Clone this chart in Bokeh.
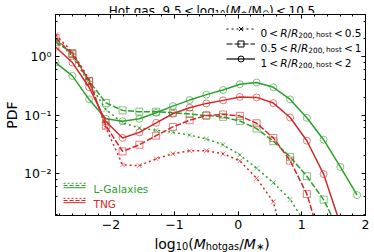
from bokeh.plotting import figure
from bokeh.layouts import column
from bokeh.models import (Range1d, LogAxis, LinearAxis, SingleIntervalTicker, LogTicker,
                          CustomJSTickFormatter, Label, Legend, LegendItem, Arrow)
from bokeh.embed import file_html
from bokeh.resources import INLINE

# ---------------- data ----------------
log_ratio = [-2.868, -2.605, -2.342, -2.079, -1.816, -1.553, -1.289, -1.026, -0.763,
             -0.500, -0.237, 0.026, 0.289, 0.553, 0.816, 1.079, 1.342, 1.605, 1.868]

lgal_inner = [2.0, 1.02, 0.35, 0.124, 0.0734, 0.0601, 0.0547, 0.0505, 0.0452, 0.0389,
              0.031, 0.0208, 0.0123, 0.00694, 0.00359, 0.00127]
lgal_mid = [1.78, 1.15, 0.383, 0.161, 0.120, 0.114, 0.114, 0.109, 0.104, 0.098, 0.093,
            0.0788, 0.0585, 0.0356, 0.0192, 0.00895, 0.00356, 0.00094]
lgal_outer = [0.79, 0.467, 0.185, 0.086, 0.078, 0.086, 0.109, 0.142, 0.180, 0.223, 0.268,
              0.336, 0.359, 0.298, 0.185, 0.0895, 0.0378, 0.0129, 0.00426]
tng_inner = [2.35, 1.2, 0.409, 0.0609, 0.014, 0.0136, 0.0178, 0.0217, 0.0244, 0.0244,
             0.0217, 0.0164, 0.00826, 0.00327, 0.00025]
tng_mid = [2.08, 1.10, 0.378, 0.0659, 0.0238, 0.031, 0.0443, 0.0626, 0.0813, 0.098, 0.102,
           0.0968, 0.0722, 0.0405, 0.0166, 0.00443, 0.0005]
tng_outer = [1.46, 0.79, 0.298, 0.0773, 0.0405, 0.0505, 0.0734, 0.105, 0.133, 0.158, 0.178,
             0.204, 0.20, 0.16, 0.0906, 0.0363, 0.00973, 0.00135]

GREEN = "#2ca02c"
RED = "#d62728"
FONT = "DejaVu Sans"

W = 374
TOP_H, BOT_H = 13, 16
H = 252 - TOP_H - BOT_H
BL, BR, BT, BB = 52, 9, 1, 21
FW, FH = W - BL - BR, H - BT - BB

p = figure(width=W, height=H, x_range=Range1d(-2.87, 2.0),
           y_range=Range1d(10 ** -2.72, 10 ** 0.72), y_axis_type="log",
           output_backend="svg", toolbar_location=None,
           min_border_left=BL, min_border_right=BR, min_border_top=BT, min_border_bottom=BB)
p.xgrid.visible = False
p.ygrid.visible = False
p.outline_line_color = "black"
p.outline_line_width = 1
p.background_fill_color = "white"
p.border_fill_color = "white"

xt = SingleIntervalTicker(interval=1, num_minor_ticks=5)
yt = LogTicker()


def style_axis(ax, labels=True):
    ax.axis_line_color = "black"
    ax.major_tick_in = 4
    ax.major_tick_out = 0
    ax.minor_tick_in = 2
    ax.minor_tick_out = 0
    ax.major_tick_line_color = "black"
    ax.minor_tick_line_color = "black"
    if labels:
        ax.major_label_text_font = FONT
        ax.major_label_text_font_size = "12.5px"
        ax.major_label_text_color = "black"
    else:
        ax.major_label_text_font_size = "1px"
        ax.major_label_text_alpha = 0
        ax.major_label_standoff = 0


p.xaxis.ticker = xt
p.xaxis.formatter = CustomJSTickFormatter(
    code="return tick < 0 ? '\u2212' + Math.abs(tick) : tick.toString();")
p.yaxis.ticker = yt
p.yaxis.formatter = CustomJSTickFormatter(code="""
const e = Math.round(Math.log10(tick));
const sup = {"-": "\u207b", "0": "\u2070", "1": "\u00b9", "2": "\u00b2", "3": "\u00b3"};
return "10" + String(e).split("").map(c => sup[c]).join("");
""")
style_axis(p.xaxis[0])
style_axis(p.yaxis[0])
p.xaxis.major_label_standoff = 4
p.yaxis.major_label_standoff = 4
p.yaxis.axis_label = "PDF"
p.yaxis.axis_label_text_font = FONT
p.yaxis.axis_label_text_font_size = "14px"
p.yaxis.axis_label_text_font_style = "normal"
p.yaxis.axis_label_text_color = "black"
p.yaxis.axis_label_standoff = 1

top_ax = LinearAxis(ticker=xt)
style_axis(top_ax, labels=False)
p.add_layout(top_ax, "above")
right_ax = LogAxis(ticker=yt)
style_axis(right_ax, labels=False)
p.add_layout(right_ax, "right")

# ---------------- series ----------------
DOT, DASH = "2 3", "6 2"
series = [
    (lgal_inner, GREEN, DOT, "x"),
    (lgal_mid, GREEN, DASH, "square"),
    (lgal_outer, GREEN, "solid", "circle"),
    (tng_inner, RED, DOT, "x"),
    (tng_mid, RED, DASH, "square"),
    (tng_outer, RED, "solid", "circle"),
]
for vals, col, dash, mk in series:
    xs = log_ratio[:len(vals)]
    p.line(xs, vals, line_color=col, line_width=1.5, line_dash=dash)
    p.scatter(xs, vals, marker=mk, size=7, line_color=col, line_width=1,
              line_alpha=0.6, fill_color=None)

# ---------------- legend (line styles) ----------------
NAN = [float("nan")]
items = []
for dash, mk in [(DOT, "x"), (DASH, "square"), ("solid", "circle")]:
    lr = p.line(NAN, NAN, line_color="black", line_width=1.2, line_dash=dash)
    sr = p.scatter(NAN, NAN, marker=mk, line_color="black", line_width=1, fill_color=None)
    items.append(LegendItem(label="\u00a0", renderers=[lr, sr]))
leg = Legend(items=items, location=(171, FH - 52), orientation="vertical",
             glyph_width=29, glyph_height=15, spacing=0, padding=0, margin=0,
             label_standoff=0, label_width=2, label_height=15,
             label_text_font_size="10.5px", border_line_color=None,
             background_fill_alpha=0)
p.add_layout(leg)

# ---------------- rich text helper ----------------
EM = {' ': .318, ',': .318, '.': .318, '/': .337, '(': .390, ')': .390, '<': .838,
      '0': .636, '1': .636, '2': .636, '3': .636, '4': .636, '5': .636, '6': .636,
      '7': .636, '8': .636, '9': .636, 'H': .752, 'L': .557, 'G': .776, 'M': .863,
      'N': .748, 'R': .695, 'T': .611, 'a': .613, 'e': .615, 'g': .635, 'h': .634,
      'i': .278, 'l': .278, 'o': .612, 's': .521, 't': .392, 'x': .592, '-': .361,
      '\u2217': .838, '\u2299': .838}


def tw(s, size):
    return sum(EM.get(c, .6) for c in s) * size


def rich(fig, pieces, x, y, align="left", color="black"):
    total = 0.0
    for pc in pieces:
        total += pc[1] if pc[0] is None else tw(pc[0], pc[1])
    cx = x - total / 2 if align == "center" else x
    for pc in pieces:
        if pc[0] is None:
            cx += pc[1]
            continue
        txt, size, dy, st = pc
        fig.add_layout(Label(x=cx, y=y + dy, x_units="screen", y_units="screen", text=txt,
                             text_font=FONT, text_font_size=f"{size}px", text_font_style=st,
                             text_color=color, text_align="left",
                             text_baseline="alphabetic"))
        cx += tw(txt, size)


def sub(t, size):
    return (t, round(size * 0.7, 2), -0.2 * size, "normal")


def strip(h):
    f = figure(width=W, height=h, x_range=Range1d(0, W), y_range=Range1d(0, h),
               output_backend="svg", toolbar_location=None, min_border=0, title=None,
               x_axis_location=None, y_axis_location=None)
    f.grid.visible = False
    f.outline_line_color = None
    f.background_fill_color = "white"
    f.border_fill_color = "white"
    return f


# title (strip above the plot; its frame is aligned with the main frame)
top = strip(TOP_H)
T = 12
rich(top, [("Hot gas,", T, 0, "normal"), (None, .32 * T), ("9.5", T, 0, "normal"),
           (None, .2 * T), ("<", T, 0, "normal"), (None, .2 * T), ("log", T, 0, "normal"),
           sub("10", T), ("(", T, 0, "normal"), ("M", T, 0, "italic"), sub("\u2217", T),
           ("/", T, 0, "normal"), ("M", T, 0, "normal"), sub("\u2299", T),
           (")", T, 0, "normal"), (None, .2 * T), ("<", T, 0, "normal"), (None, .2 * T),
           ("10.5", T, 0, "normal")],
     FW / 2, 2.6, align="center")

# x axis label (strip below the plot)
bot = strip(BOT_H)
X = 14
rich(bot, [("log", X, 0, "normal"), sub("10", X), ("(", X, 0, "normal"),
           ("M", X, 0, "italic"), sub("hotgas", X), ("/", X, 0, "normal"),
           ("M", X, 0, "italic"), sub("\u2217", X), (")", X, 0, "normal")],
     FW / 2, 9, align="center")

# legend texts (radial bins)
S = 10.5
for i, (lo, hi) in enumerate([("0", "0.5"), ("0.5", "1"), ("1", "2")]):
    yb = FH - (14.5 + 15 * i) - 3.8
    rich(p, [(lo, S, 0, "normal"), (None, .2 * S), ("<", S, 0, "normal"), (None, .2 * S),
             ("R", S, 0, "italic"), ("/", S, 0, "normal"), ("R", S, 0, "italic"),
             sub("200,", S), (None, .12 * S), sub("host", S), (None, .2 * S),
             ("<", S, 0, "normal"), (None, .2 * S), (hi, S, 0, "normal")], 205, yb)

# legend (models)
for name, col, yc in [("L-Galaxies", GREEN, 30), ("TNG", RED, 15)]:
    for off, dash in [(2.2, "2 2"), (0, "4 2"), (-2.2, "solid")]:
        p.add_layout(Arrow(end=None, x_start=8, y_start=yc + off, x_end=30, y_end=yc + off,
                           start_units="screen", end_units="screen", line_color=col,
                           line_width=1, line_dash=dash))
    p.add_layout(Label(x=38, y=yc - 3.8, x_units="screen", y_units="screen", text=name,
                       text_font=FONT, text_font_size="10.5px", text_color=col,
                       text_align="left", text_baseline="alphabetic"))

layout = column(top, p, bot, spacing=0)
open("out.html", "w").write(file_html(layout, INLINE))
